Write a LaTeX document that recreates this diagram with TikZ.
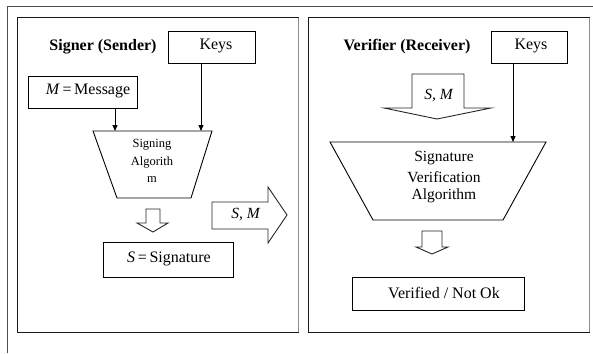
\documentclass[tikz,border=0pt]{standalone}
\usepackage{fontspec}
\setmainfont{Liberation Serif}
\usetikzlibrary{arrows.meta}
\tikzset{
  box/.style={draw=black, line width=0.9pt, inner sep=0pt},
  arr/.style={draw=black, line width=0.9pt, -{Triangle[length=6pt,width=5pt]}},
  hollow/.style={draw=black!85, line width=0.9pt, fill=white},
  panel/.style={draw=black!90, line width=1pt},
  shade/.style={draw=black!45, line width=1.8pt},
  txt/.style={font=\fontsize{16}{18}\selectfont, inner sep=0pt},
  small/.style={font=\fontsize{12.5}{14}\selectfont, inner sep=0pt},
  mid/.style={font=\fontsize{15.5}{17}\selectfont, inner sep=0pt},
  head/.style={font=\fontsize{16}{18}\selectfont\bfseries, inner sep=0pt},
}
\begin{document}
\begin{tikzpicture}[x=1pt,y=-1pt]
\useasboundingbox (0,0) rectangle (593,353);
% outer frame (partly visible)
\draw[draw=black!70, line width=1pt] (7,353) -- (7,7) -- (593,7);
% panels
\draw[panel] (17,18) rectangle (298,332);
\draw[shade] (298.5,18) -- (298.5,332);
\draw[panel] (308,18) rectangle (589,332);
\draw[shade] (589.5,18) -- (589.5,332);

% ---------- left panel ----------
\node[head] (signer) at (103,47) {Signer (Sender)};
\node[box, minimum width=87pt, minimum height=32pt] (keysL) at (211.5,47) {};
\node[txt] at (216,46) {Keys};
\node[box, minimum width=109pt, minimum height=32pt] (msg) at (82.5,92) {};
\node[txt] at (88,91) {\textit{M}\,=\,Message};
\coordinate (t1) at (93,131); \coordinate (t2) at (212,131);
\coordinate (t3) at (191,198); \coordinate (t4) at (117,198);
\draw[box] (t1) -- (t2) -- (t3) -- (t4) -- cycle;
\node[small] (sa1) at (152,145) {Signing};
\node[small] (sa2) at (152,163) {Algorith};
\node[small] (sa3) at (152,180) {m};
\draw[arr] ([xshift=32.5pt]msg.south) -- ([xshift=32.5pt]msg.south |- t1);
\draw[arr] ([xshift=-10.5pt]keysL.south) -- ([xshift=-10.5pt]keysL.south |- t1);
% hollow down arrow
\draw[hollow] (146,209) -- (160,209) -- (160,223) -- (168,223) -- (153,232) -- (137,223) -- (146,223) -- cycle;
\node[box, minimum width=130pt, minimum height=35pt] (sig) at (168,259.5) {};
\node[txt] at (169,258.5) {\textit{S}\,=\,Signature};
% big right arrow
\draw[hollow] (212,202) -- (268,202) -- (268,187) -- (287,215) -- (268,243) -- (268,229) -- (212,229) -- cycle;
\node[mid] (smR) at (246,215) {\textit{S, M}};

% ---------- right panel ----------
\node[head] (verifier) at (407,47) {Verifier (Receiver)};
\node[box, minimum width=76pt, minimum height=32pt] (keysR) at (529,47) {};
\node[txt] at (531,46) {Keys};
\draw[hollow] (412,74) -- (464,74) -- (464,108) -- (491,108) -- (437,119) -- (384,108) -- (412,108) -- cycle;
\node[mid] (smD) at (439,96) {\textit{S, M}};
\coordinate (v1) at (330,142); \coordinate (v2) at (546,142);
\coordinate (v3) at (503,220); \coordinate (v4) at (373,220);
\draw[box] (v1) -- (v2) -- (v3) -- (v4) -- cycle;
\node[mid] (va1) at (444,158) {Signature};
\node[mid] (va2) at (444,177) {Verification};
\node[mid] (va3) at (444,196) {Algorithm};
\draw[arr] ([xshift=-16pt]keysR.south) -- ([xshift=-16pt]keysR.south |- v1);
\draw[hollow] (422,231) -- (442,231) -- (442,247) -- (448,247) -- (432,254) -- (416,247) -- (422,247) -- cycle;
\node[box, minimum width=172pt, minimum height=33pt] (ver) at (438,293.5) {};
\node[txt] at (444,292.5) {Verified / Not Ok};
\end{tikzpicture}
\end{document}
